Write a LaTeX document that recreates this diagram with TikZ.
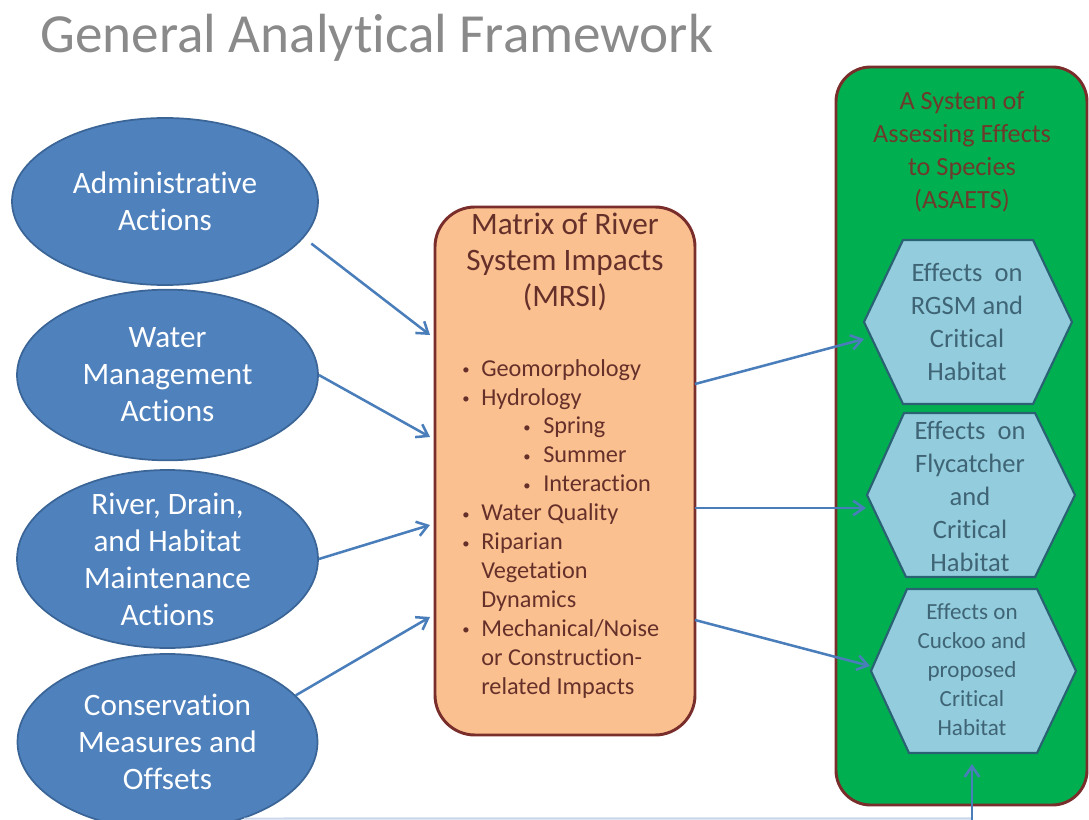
\documentclass[tikz,border=0pt]{standalone}
\usepackage{fontspec}
\setmainfont{Carlito}[Ligatures={NoCommon}]
\usetikzlibrary{arrows.meta,shapes.geometric,calc}
\definecolor{ellblue}{HTML}{4F81BD}
\definecolor{ellborder}{HTML}{3A6596}
\definecolor{arrblue}{HTML}{4A7EBB}
\definecolor{lightline}{HTML}{C9D7EA}
\definecolor{orfill}{HTML}{FAC090}
\definecolor{boxborder}{HTML}{7A2E2B}
\definecolor{mrsitext}{HTML}{66302A}
\definecolor{grfill}{HTML}{00B050}
\definecolor{grtext}{HTML}{6E3A2C}
\definecolor{hexfill}{HTML}{93CDDD}
\definecolor{hexborder}{HTML}{2A6273}
\definecolor{hextext}{HTML}{3E6475}
\definecolor{titlegray}{HTML}{8A8A8A}
\newcommand{\blt}{\raisebox{1.2pt}{\fontsize{11}{11}\selectfont •}}
\begin{document}
\begin{tikzpicture}[x=0.75pt,y=-0.75pt,
  actell/.style={ellipse, fill=ellblue, draw=ellborder, line width=1.3pt, inner sep=0pt},
  acttext/.style={text=white, align=center, inner sep=0pt, font=\fontsize{23.4}{27.8}\selectfont},
  conn/.style={draw=arrblue, line width=1.9pt, -{Straight Barb[length=8pt,width=11pt]}},
  hexshape/.style={fill=hexfill, draw=hexborder, line width=1.6pt, line join=miter},
  hextxt/.style={text=hextext, align=center, inner sep=0pt},
  bigbox/.style={draw=boxborder, line width=2.2pt, inner sep=0pt}
]
\useasboundingbox (0,0) rectangle (1089,820);

% title
\node[anchor=base west, inner sep=0pt, text=titlegray, font=\fontsize{41.4}{48}\selectfont] (title) at (40,53) {General Analytical Framework};

% ellipses
\node[actell, minimum width=229.5pt, minimum height=125.25pt] (adm) at (165,201.5) {};
\node[acttext] (admt) at (adm.center) {Administrative\\Actions};
\node[actell, minimum width=225.75pt, minimum height=128pt] (wat) at (167.5,375) {};
\node[acttext] (watt) at (wat.center) {Water\\Management\\Actions};
\node[actell, minimum width=225.75pt, minimum height=133.5pt] (riv) at (167.5,559) {};
\node[acttext] (rivt) at (riv.center) {River, Drain,\\and Habitat\\Maintenance\\Actions};
\node[actell, minimum width=225pt, minimum height=132pt] (cons) at (167.5,742) {};
\node[acttext] (const) at (cons.center) {Conservation\\Measures and\\Offsets};

% MRSI box
\node[bigbox, fill=orfill, rounded corners=30pt, minimum width=195pt, minimum height=396pt] (mrsi) at (565,471) {};
\node[text=mrsitext, align=center, inner sep=0pt, font=\fontsize{23.4}{27}\selectfont] (mrsit) at (565,262) {Matrix of River\\System Impacts\\(MRSI)};
\node[text=mrsitext, anchor=north west, align=left, inner sep=0pt, font=\fontsize{18.2}{21.7}\selectfont] (mrsil) at (462,359)
 {\makebox[14.25pt][l]{\blt}Geomorphology\\
  \makebox[14.25pt][l]{\blt}Hydrology\\
  \hspace{45.75pt}\makebox[15pt][l]{\blt}Spring\\
  \hspace{45.75pt}\makebox[15pt][l]{\blt}Summer\\
  \hspace{45.75pt}\makebox[15pt][l]{\blt}Interaction\\
  \makebox[14.25pt][l]{\blt}Water Quality\\
  \makebox[14.25pt][l]{\blt}Riparian\\
  \hspace{14.25pt}Vegetation\\
  \hspace{14.25pt}Dynamics\\
  \makebox[14.25pt][l]{\blt}Mechanical/Noise\\
  \hspace{14.25pt}or Construction-\\
  \hspace{14.25pt}related Impacts};

% ASAETS box
\node[bigbox, fill=grfill, rounded corners=26pt, minimum width=188.25pt, minimum height=553.5pt] (asaets) at (961.5,436) {};
\node[text=grtext, align=center, inner sep=0pt, font=\fontsize{19.7}{24.75}\selectfont] (asaetst) at (962,152) {A System of\\Assessing Effects\\to Species\\(ASAETS)};

% hexagons
\draw[hexshape] (864,322) coordinate (h1w) -- (903,240) -- (1033,240) -- (1072,322) -- (1033,404) -- (903,404) -- cycle;
\node[hextxt, font=\fontsize{19.9}{24.75}\selectfont] (h1) at (967,322) {Effects~ on\\RGSM and\\Critical\\Habitat};
\draw[hexshape] (867,495) coordinate (h2w) -- (904,413) -- (1035,413) -- (1075,495) -- (1035,577) -- (906,577) -- cycle;
\node[hextxt, font=\fontsize{19.9}{24.75}\selectfont] (h2) at (970,496) {Effects~ on\\Flycatcher\\and\\Critical\\Habitat};
\draw[hexshape] (871,671) coordinate (h3w) -- (907,589) -- (1037,589) -- (1076,671) -- (1037,753) -- (909,753) -- cycle;
\node[hextxt, font=\fontsize{17.3}{21.75}\selectfont] (h3) at (972,670) {Effects on\\Cuckoo and\\proposed\\Critical\\Habitat};

% connector end points
\coordinate (a1) at (430,335);
\coordinate (a2) at (430,437);
\coordinate (a3) at (430,525);
\coordinate (a4) at (430,617);
\coordinate (s1) at (695,384);
\coordinate (s2) at (695,508);
\coordinate (s3) at (695,620);
\coordinate (t1) at (864,339);
\coordinate (t2) at (866,508);
\coordinate (t3) at (870,666);
\coordinate (bl) at (972,818.5);
\coordinate (br) at (972,820);
\coordinate (t4) at (972,764);

% connectors
\draw[conn] ([shift={(10,3)}]adm.-16) -- (a1);
\draw[conn] (wat.east) -- (a2);
\draw[conn] (riv.east) -- (a3);
\draw[conn] (cons.20) -- (a4);
\draw[conn] (s1) -- (t1);
\draw[conn] (s2) -- (t2);
\draw[conn] (s3) -- (t3);
\draw[draw=lightline, line width=1.6pt] (cons.-45) -- (bl);
\draw[conn] (br) -- (t4);
\end{tikzpicture}
\end{document}
